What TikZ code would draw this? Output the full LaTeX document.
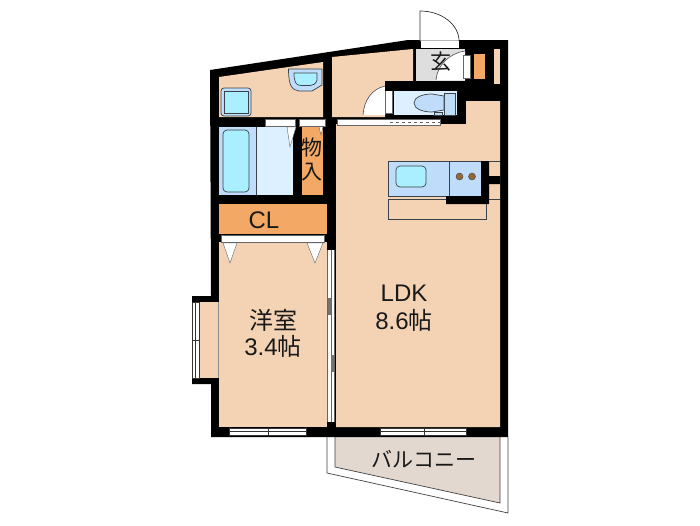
\documentclass[tikz,border=0pt]{standalone}
\usepackage{fontspec}
\setmainfont{Liberation Sans}
\newfontfamily\jpfont{Noto Sans CJK JP}
\definecolor{floorc}{HTML}{F4D3B5}
\definecolor{closetc}{HTML}{F3A965}
\definecolor{bathc}{HTML}{DDF0FF}
\definecolor{unitc}{HTML}{BFDDFB}
\definecolor{waterc}{HTML}{A9EFFF}
\definecolor{balconyc}{HTML}{E3D8CF}
\definecolor{linec}{HTML}{3A4248}
\tikzset{
  floorbox/.style={fill=floorc},
  wallbox/.style={fill=black},
  fixture/.style={draw=linec,line width=0.7pt},
  doorstrip/.style={fill=white,draw=black!60,line width=0.4pt},
  label/.style={font=\fontsize{24}{28}\selectfont,inner sep=0pt,text=black!90},
  smalllabel/.style={label,font=\fontsize{21}{24}\selectfont}
}
\begin{document}
\begin{tikzpicture}[x=1pt,y=-1pt]
  \useasboundingbox (0,0) rectangle (700,525);
  % balcony
  \draw[black!75,line width=0.7pt] (508,437) -- (508,513) -- (327,473) -- (327,437);
  \draw[fill=balconyc,draw=black!75,line width=0.7pt] (335,437) -- (335,467) -- (500,503) -- (500,437);
  % walls
  \fill[wallbox] (210,70) -- (408,40) -- (508,40) -- (508,437) -- (211,437) -- (211,384) -- (192,384) -- (192,296) -- (211,296) -- cycle;
  % floors
  \fill[floorbox] (219,77) -- (323,62) -- (323,117) -- (219,117) -- cycle;
  \fill[floorbox] (332,57) -- (413,49) -- (413,81) -- (385,81) -- (385,117) -- (332,117) -- cycle;
  \fill[floorbox] (336,124) -- (466,124) -- (466,101) -- (500,101) -- (500,427) -- (336,427) -- cycle;
  \fill[floorbox] (219,242) rectangle (327,427);
  \fill[floorbox] (199,302) rectangle (219,378);
  \draw[black!45,line width=0.5pt] (218.5,302) -- (218.5,378);
  \fill[closetc] (219,204) rectangle (327,234);
  \fill[closetc] (302,127) rectangle (323,195);
  % bath
  \fill[bathc] (219,127) rectangle (293,195);
  \fill[unitc] (219,127) rectangle (256,195);
  \draw[fixture] (256.5,127) -- (256.5,195);
  \draw[fixture,fill=waterc,rounded corners=4pt] (223,130) rectangle (249,192);
  % wash room
  \draw[fixture,fill=unitc,rounded corners=3pt] (221,88) rectangle (251,116);
  \draw[fixture,fill=waterc] (224,91) rectangle (248,113);
  \draw[fixture,fill=unitc] (288.5,69) -- (322,69) -- (322,85) -- (312,91) -- (299,91) .. controls (292,90) and (288.5,86) .. cycle;
  \draw[fixture,fill=waterc] (294,73) -- (317,73) -- (317,80) .. controls (316,84) and (313,85.5) .. (310,85.5) -- (301,85.5) .. controls (296,85.5) and (294,82) .. cycle;
  % doors
  \fill[doorstrip] (265,119) rectangle (295,126);
  \fill[doorstrip] (299,119) rectangle (325,126);
  \fill[doorstrip] (221,235) rectangle (324,242);
  \draw[doorstrip] (287,127) -- (296,127) -- (290,147) -- cycle;
  \draw[doorstrip] (319,127) -- (323,127) -- (321,135) -- cycle;
  \draw[doorstrip] (223,243) -- (237,243) -- (230,263) -- cycle;
  \draw[doorstrip] (307,243) -- (323,243) -- (315,263) -- cycle;
  % sliding doors and windows
  \fill[white] (327,250) rectangle (335,422);
  \draw[black!60,line width=0.8pt] (327.5,250) -- (327.5,422) (334.5,250) -- (334.5,422) (331,250) -- (331,422);
  \fill[black!55] (328,298) rectangle (331,315);
  \fill[black!55] (331,355) rectangle (334,372);
  \fill[black] (327,422) rectangle (335,427);
  \draw[doorstrip,draw=black!80] (229,428) rectangle (306,435);
  \draw[black!80] (229,431.5) -- (306,431.5) (268,428) -- (268,435);
  \draw[doorstrip,draw=black!80] (380,428) rectangle (466,435);
  \draw[black!80] (380,431.5) -- (466,431.5) (424,428) -- (424,435);
  \draw[doorstrip,draw=black!80] (192,302) rectangle (199,378);
  \draw[black!80] (195.5,302) -- (195.5,378) (192,340) -- (199,340);
  % entrance
  \fill[fill=black!13] (416,49) rectangle (465,81);
  \draw[fill=white,draw=black!80,line width=0.7pt] (420,41) -- (420,11) arc[start angle=90,end angle=0,x radius=39,y radius=-30] -- cycle;
  \fill[white] (420.5,41) rectangle (459,48);
  \fill[white] (436,80) .. controls (437,65) and (450,53) .. (465,51) -- (465,80) -- cycle;
  \draw[black!70,line width=0.6pt] (436,80) .. controls (437,65) and (450,53) .. (465,51);
  \draw[doorstrip] (463,55) rectangle (470,78);
  \fill[closetc] (474,54) rectangle (485,79);
  \fill[floorbox] (494,49) rectangle (500,84);
  % toilet
  \fill[white] (363,115) .. controls (364,100) and (372,89) .. (385,86) -- (385,115) -- cycle;
  \draw[black!70,line width=0.6pt] (363,115) .. controls (364,100) and (372,89) .. (385,86);
  \draw[doorstrip] (385,86) rectangle (392,113);
  \fill[wallbox] (385,81) rectangle (465,91);
  \fill[bathc] (394,91) rectangle (457,115);
  \draw[fixture,fill=unitc] (444,93) rectangle (455,115);
  \draw[fixture,fill=unitc] (414,103) .. controls (414,97) and (423,94) .. (432,94) -- (444,96) -- (444,110) -- (432,112) .. controls (423,112) and (414,109) .. (414,103) -- cycle;
  \draw[fixture,fill=unitc] (434,112) rectangle (442,115);
  \draw[doorstrip] (337,119) rectangle (440,125);
  \draw[black!60,dashed] (390,122) -- (440,122);
  % kitchen
  \draw[linec,line width=0.5pt] (489,161) -- (500,161) (489,199) -- (500,199);
  \draw[fixture] (388.5,199) rectangle (486,219);
  \fill[unitc] (388,161) rectangle (481,196);
  \draw[fixture] (388.5,161) rectangle (481,196) (449,161) -- (449,196);
  \draw[fixture,fill=waterc,rounded corners=4pt] (396,166) rectangle (426,187);
  \fill[wallbox] (481,161) rectangle (489,204) (446,196) rectangle (489,204) (489,176) rectangle (500,184);
  \foreach \burnerx in {459.5,472}
    \draw[fill=brown!80!black,draw=linec,line width=0.4pt] (\burnerx,176.5) circle (3.5);
  % labels
  \node[smalllabel] (genkan) at (441,62) {\jpfont 玄};
  \node[smalllabel] (storagetop) at (312,148) {\jpfont 物};
  \node[smalllabel] (storagebottom) at (312,172) {\jpfont 入};
  \node[label] (closet) at (264,220) {CL};
  \node[label,align=center] (western) at (273,333) {\jpfont 洋室\\[-2pt]3.4\jpfont 帖};
  \node[label,align=center] (ldk) at (404,308) {LDK\\8.6\jpfont 帖};
  \node[smalllabel] (balcony) at (424,459) {\jpfont バルコニー};
\end{tikzpicture}
\end{document}
